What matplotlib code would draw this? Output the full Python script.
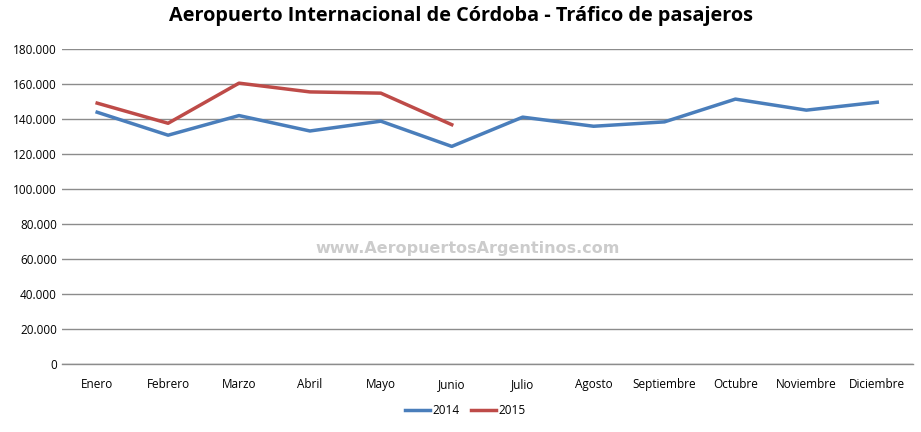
import matplotlib
matplotlib.use("Agg")
import matplotlib.pyplot as plt
from matplotlib.ticker import FuncFormatter

plt.rcParams['font.family'] = ['Open Sans', 'DejaVu Sans']

meses = ["Enero", "Febrero", "Marzo", "Abril", "Mayo", "Junio", "Julio",
         "Agosto", "Septiembre", "Octubre", "Noviembre", "Diciembre"]
pax_2014 = [143800, 130700, 141900, 133100, 138700, 124300, 141000,
            135800, 138300, 151300, 145000, 149500]
pax_2015 = [149000, 137500, 160400, 155400, 154700, 136700]

fig = plt.figure(figsize=(9.21, 4.32), dpi=100)
ax = fig.add_axes([0.067, 0.157, 0.924, 0.73])

x = list(range(len(meses)))
ax.plot(x, pax_2014, color='#4A7EBB', lw=2.5, label='2014')
ax.plot(x[:len(pax_2015)], pax_2015, color='#BE4B48', lw=2.5, label='2015')

ax.set_xlim(-0.5, len(meses) - 0.5)
ax.set_ylim(0, 180000)
ax.set_yticks(range(0, 180001, 20000))
ax.yaxis.set_major_formatter(FuncFormatter(lambda v, p: f"{int(v):,}".replace(",", ".")))
ax.set_xticks(x)
ax.set_xticklabels(meses)
ax.grid(axis='y', color='#8c8c8c', lw=1)
ax.axhline(0, color='#8c8c8c', lw=1, clip_on=False, zorder=0)
ax.set_axisbelow(True)
for s in ax.spines.values():
    s.set_visible(False)
ax.tick_params(length=0, labelsize=8.5, colors='black')
ax.tick_params(axis='x', pad=10)

# marca de agua
ax.text(0.477, 0.368, "www.AeropuertosArgentinos.com", transform=ax.transAxes,
        ha='center', va='center', fontsize=11.5, color='#cccccc',
        family='DejaVu Sans', fontweight='bold')

fig.suptitle("Aeropuerto Internacional de Córdoba - Tráfico de pasajeros",
             y=0.985, fontsize=14.3, fontweight='bold')

fig.legend(loc='center', bbox_to_anchor=(0.505, 0.05), ncol=2, frameon=False,
           fontsize=8.5, handlelength=2.1, handletextpad=0.2, columnspacing=1.0)

fig.savefig("out.png", dpi=100)
